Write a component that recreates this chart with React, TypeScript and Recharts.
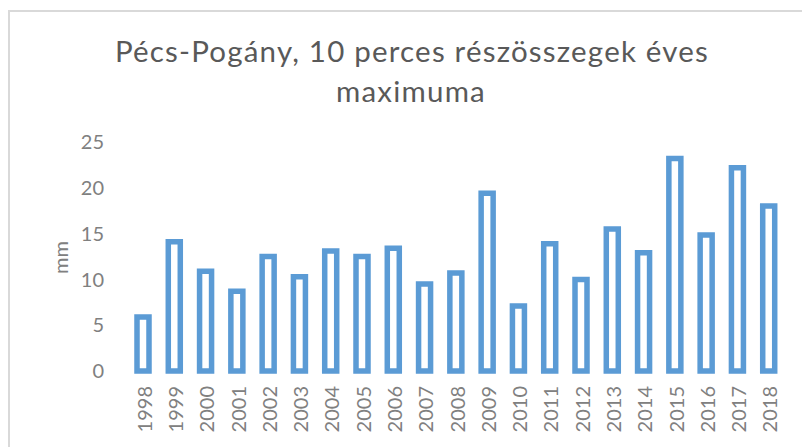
import React from 'react';
import { BarChart, Bar, XAxis, YAxis, Label } from 'recharts';

const years = ['1998', '1999', '2000', '2001', '2002', '2003', '2004', '2005', '2006', '2007', '2008', '2009', '2010', '2011', '2012', '2013', '2014', '2015', '2016', '2017', '2018'];
const maxima = [5.9, 14.1, 10.9, 8.7, 12.5, 10.3, 13.1, 12.5, 13.4, 9.5, 10.7, 19.4, 7.1, 13.9, 10.0, 15.5, 12.9, 23.2, 14.85, 22.2, 18.0];
const yTicks = [0, 5, 10, 15, 20, 25];
const titleLines = ['Pécs-Pogány, 10 perces részösszegek éves', 'maximuma'];
const yLabel = 'mm';

const data = years.map((y, i) => ({ year: y, value: maxima[i] }));

const FONT = 'Lato, "Open Sans", sans-serif';
const TICK_COLOR = '#808080';

const XTick = (props: any) => {
  const { x, y, payload } = props;
  const cx = x + 1;
  return (
    <text
      x={cx}
      y={y}
      transform={`rotate(-90 ${cx} ${y})`}
      textAnchor="end"
      dominantBaseline="central"
      fill={TICK_COLOR}
      fontSize={20}
      fontFamily={FONT}
    >
      {payload.value}
    </text>
  );
};

const YLabelContent = (props: any) => {
  const vb = props.viewBox || { x: 0, y: 0, height: 0 };
  const cx = vb.x + 60;
  const cy = vb.y + vb.height / 2 + 1;
  return (
    <text
      x={cx}
      y={cy}
      transform={`rotate(-90 ${cx} ${cy})`}
      textAnchor="middle"
      dominantBaseline="central"
      fill={TICK_COLOR}
      fontSize={20}
      fontFamily={FONT}
    >
      {yLabel}
    </text>
  );
};

export default function App() {
  return (
    <div style={{ position: 'absolute', left: 0, top: 0, width: 802, height: 447, overflow: 'hidden', background: '#fff' }}>
      <div
        style={{
          position: 'absolute',
          left: 8,
          top: 10,
          width: 900,
          height: 600,
          borderLeft: '2px solid #d9d9d9',
          borderTop: '2px solid #d9d9d9',
        }}
      />
      <svg width={802} height={130} style={{ position: 'absolute', left: 0, top: 0 }}>
        <text x={412} y={62} textAnchor="middle" fill="#595959" fontSize={29.5} letterSpacing={1.2} fontFamily={FONT}>
          {titleLines[0]}
        </text>
        <text x={411} y={101.5} textAnchor="middle" fill="#595959" fontSize={29.5} letterSpacing={1.2} fontFamily={FONT}>
          {titleLines[1]}
        </text>
      </svg>
      <div style={{ position: 'absolute', left: 0, top: 0 }}>
        <BarChart width={802} height={447} data={data} margin={{ top: 142, right: 18, bottom: 6, left: 0 }} barCategoryGap={0}>
          <XAxis
            dataKey="year"
            axisLine={false}
            tickLine={false}
            tickSize={0}
            tickMargin={15}
            height={70}
            interval={0}
            tick={<XTick />}
          />
          <YAxis
            domain={[0, 25]}
            ticks={yTicks}
            axisLine={false}
            tickLine={false}
            tickSize={0}
            tickMargin={23}
            width={127}
            tick={{ fill: TICK_COLOR, fontSize: 20, fontFamily: FONT }}
          >
            <Label content={<YLabelContent />} />
          </YAxis>
          <Bar dataKey="value" barSize={12} fill="#ffffff" stroke="#5b9bd5" strokeWidth={5.5} isAnimationActive={false} />
        </BarChart>
      </div>
    </div>
  );
}
